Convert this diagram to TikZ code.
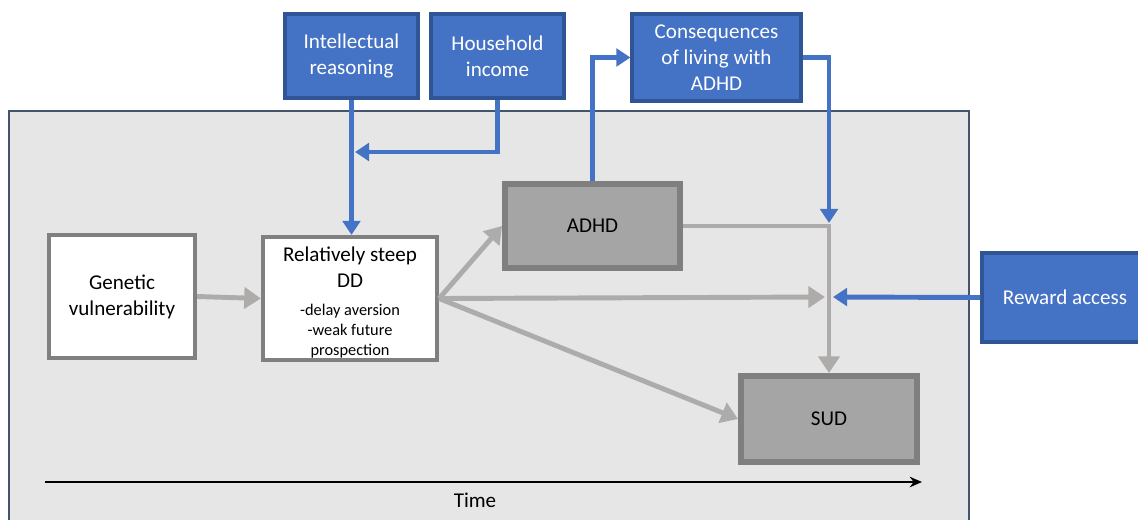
\documentclass[tikz,border=0pt]{standalone}
\usepackage{fontspec}
\setmainfont{Carlito}
\usetikzlibrary{arrows.meta,calc}
\definecolor{bgfill}{HTML}{E7E6E6}
\definecolor{bgline}{HTML}{44546A}
\definecolor{garr}{HTML}{AEABAB}
\definecolor{wbord}{HTML}{808080}
\definecolor{dfill}{HTML}{A5A5A5}
\definecolor{dbord}{HTML}{7F7F7F}
\definecolor{bfill}{HTML}{4472C4}
\definecolor{bbord}{HTML}{2F5597}
\tikzset{
  whitebox/.style={draw=wbord, fill=white, line width=2.4pt, align=center, font=\fontsize{12}{14.7}\selectfont, inner sep=0pt},
  graybox/.style={draw=dbord, fill=dfill, line width=3.4pt, align=center, font=\fontsize{12}{14.7}\selectfont, inner sep=0pt},
  bluebox/.style={draw=bbord, fill=bfill, line width=1.8pt, text=white, align=center, font=\fontsize{12}{14.7}\selectfont, inner sep=0pt},
  garrow/.style={draw=garr, line width=2.8pt, -{Triangle[length=9.5pt,width=12pt]}},
  barrow/.style={draw=bfill, line width=2.8pt, -{Triangle[length=8pt,width=10pt]}},
}
\begin{document}
\begin{tikzpicture}[x=0.02cm,y=-0.02cm]
\useasboundingbox (0,0) rectangle (1138,520);
% background panel
\fill[bgfill, draw=bgline, line width=0.7pt] (9,111) rectangle (969,530);
% nodes
\node[whitebox, minimum width=2.92cm, minimum height=2.46cm] (gen) at (122,296.5) {Genetic\\vulnerability};
\node[whitebox, minimum width=3.48cm, minimum height=2.46cm] (dd) at (350,298.5) {};
\node[font=\fontsize{12}{14.7}\selectfont, align=center, anchor=north, inner sep=0pt] (ddt) at (350,247) {Relatively steep\\DD};
\node[font=\fontsize{9.3}{11.4}\selectfont, align=center, anchor=north, inner sep=0pt] (dds) at (350,304) {-delay aversion\\-weak future\\prospection};
\node[graybox, minimum width=3.5cm, minimum height=1.68cm] (adhd) at (592.5,226) {ADHD};
\node[graybox, minimum width=3.52cm, minimum height=1.72cm] (sud) at (829,419) {SUD};
\node[bluebox, minimum width=2.66cm, minimum height=1.68cm] (intel) at (351.5,56) {Intellectual\\reasoning};
\node[bluebox, minimum width=2.66cm, minimum height=1.68cm] (house) at (497.5,56) {Household\\income};
\node[bluebox, minimum width=3.38cm, minimum height=1.74cm] (cons) at (716.5,57.5) {Consequences\\of living with\\ADHD};
\node[bluebox, minimum width=3.32cm, minimum height=1.78cm] (reward) at (1065,297.5) {Reward access};
% junction coordinates
\coordinate (jt) at (829,226);
\coordinate (jin) at (825,297);
\coordinate (jr) at (833,297);
\coordinate (jtop) at (829,223);
\coordinate (hj) at (355,152);
\coordinate (t0) at (45,482);
\coordinate (t1) at (922,482);
% gray connectors
\draw[garrow] (gen.east) -- (dd.west);
\draw[garrow] (dd.east) -- (adhd.west);
\draw[garrow] (dd.east) -- (jin);
\draw[garrow] (dd.east) -- (sud.west);
\draw[garrow] (adhd.east) -- (jt) -- (sud.north);
% blue connectors
\draw[barrow] (intel.south) -- (intel.south |- dd.north);
\draw[barrow] (house.south) |- (hj);
\draw[barrow] (adhd.north) |- (cons.west);
\draw[barrow] (cons.east) -| (jtop);
\draw[barrow] (reward.west) -- (jr);
% time axis
\draw[line width=1.3pt, -{Stealth[length=7pt,width=6pt]}] (t0) -- (t1);
\node[font=\fontsize{12}{14.7}\selectfont] (time) at (475,500) {Time};
\end{tikzpicture}
\end{document}
